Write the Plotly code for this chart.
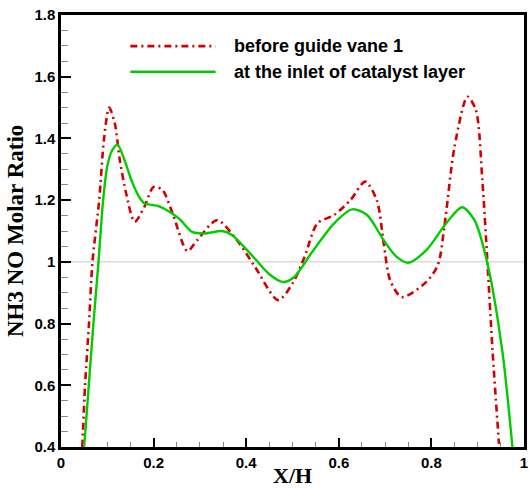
import plotly.graph_objects as go

# NH3/NO molar ratio profiles along X/H
x_guide = [0.046, 0.052, 0.0605, 0.068, 0.0825, 0.093, 0.104, 0.116, 0.127, 0.141,
           0.159, 0.18, 0.2, 0.219, 0.241, 0.273, 0.294, 0.337, 0.38, 0.419,
           0.469, 0.5, 0.526, 0.554, 0.59, 0.625, 0.657, 0.682, 0.697, 0.711,
           0.736, 0.789, 0.814, 0.828, 0.85, 0.878, 0.896, 0.91, 0.921, 0.932, 0.946]
y_guide = [0.40, 0.60, 0.80, 1.00, 1.20, 1.40, 1.50, 1.45, 1.33, 1.22,
           1.13, 1.178, 1.243, 1.233, 1.157, 1.035, 1.07, 1.135, 1.07, 0.984,
           0.876, 0.93, 1.016, 1.125, 1.152, 1.20, 1.26, 1.20, 1.06, 0.94,
           0.886, 0.935, 0.99, 1.114, 1.373, 1.535, 1.492, 1.265, 1.00, 0.713, 0.41]

x_inlet = [0.050, 0.060, 0.070, 0.081, 0.091, 0.100, 0.110, 0.122, 0.137, 0.152,
           0.169, 0.18, 0.212, 0.255, 0.283, 0.31, 0.348, 0.369, 0.419, 0.45,
           0.479, 0.504, 0.54, 0.59, 0.629, 0.661, 0.697, 0.725, 0.75, 0.789,
           0.832, 0.866, 0.893, 0.921, 0.953, 0.975]
y_inlet = [0.40, 0.60, 0.80, 1.00, 1.20, 1.31, 1.36, 1.38, 1.33, 1.265,
           1.21, 1.19, 1.18, 1.14, 1.097, 1.092, 1.10, 1.087, 1.01, 0.96,
           0.935, 0.951, 1.027, 1.125, 1.17, 1.152, 1.07, 1.016, 0.997, 1.038,
           1.125, 1.177, 1.135, 0.995, 0.713, 0.40]

series_names = ["before guide vane 1", "at the inlet of catalyst layer"]
RED = "#d40000"
GREEN = "#00cc00"
RED_DASH = "7px,4px,2px,4px"

fig = go.Figure()
fig.add_trace(go.Scatter(x=x_guide, y=y_guide, mode="lines", name=series_names[0],
                         line=dict(color=RED, width=2.6, dash=RED_DASH,
                                   shape="spline", smoothing=0.8)))
fig.add_trace(go.Scatter(x=x_inlet, y=y_inlet, mode="lines", name=series_names[1],
                         line=dict(color=GREEN, width=2.4, shape="spline", smoothing=0.8)))

tick_font = dict(family="Liberation Sans, Arial, sans-serif", size=15, color="black", weight="bold")
title_font = dict(family="Liberation Serif, Times New Roman, serif", size=23, color="black", weight="bold")

fig.update_xaxes(range=[0, 1], dtick=0.2, tick0=0, showgrid=False, zeroline=False,
                 showline=True, linecolor="black", linewidth=2.5, mirror=True,
                 ticks="inside", ticklen=9, tickwidth=2, tickcolor="black",
                 tickfont=tick_font, ticklabeloverflow="allow",
                 minor=dict(dtick=0.05, ticks="inside", ticklen=5, tickwidth=1,
                            tickcolor="#888888", showgrid=False))
fig.update_yaxes(range=[0.4, 1.8], dtick=0.2, tick0=0.4, showgrid=False, zeroline=False,
                 showline=True, linecolor="black", linewidth=2.5, mirror=True,
                 ticks="inside", ticklen=10, tickwidth=2, tickcolor="black",
                 tickfont=tick_font,
                 minor=dict(dtick=0.05, ticks="inside", ticklen=7, tickwidth=1,
                            tickcolor="#888888", showgrid=False))

# reference line at ratio 1
fig.add_shape(type="line", xref="paper", yref="y", x0=0, x1=1, y0=1, y1=1,
              line=dict(color="#c8c8c8", width=1), layer="below")

# legend drawn inside the frame
legend_rows = [(0.928, RED, RED_DASH), (0.8687, GREEN, "solid")]
for (ly, col, dash), label in zip(legend_rows, series_names):
    fig.add_shape(type="line", xref="paper", yref="paper", x0=0.1498, x1=0.3338,
                  y0=ly, y1=ly, line=dict(color=col, width=2.6, dash=dash))
    fig.add_annotation(xref="paper", yref="paper", x=0.3694, y=ly, text=label,
                       showarrow=False, xanchor="left", yanchor="middle",
                       font=dict(family="Liberation Sans, Arial, sans-serif",
                                 size=18, color="black", weight="bold"))

# axis titles
fig.add_annotation(xref="paper", yref="paper", x=0.5, y=0, yshift=-28, text="X/H",
                   showarrow=False, xanchor="center", yanchor="middle", borderpad=0,
                   font=dict(title_font, size=22))
fig.add_annotation(xref="paper", yref="paper", x=0, y=0.5, xshift=-46,
                   text="NH3 NO Molar Ratio", textangle=-90, showarrow=False,
                   xanchor="center", yanchor="middle", font=title_font)

fig.update_layout(width=529, height=488, showlegend=False,
                  margin=dict(l=61, r=1, t=15, b=41),
                  plot_bgcolor="white", paper_bgcolor="white")

fig.write_html("out.html")
